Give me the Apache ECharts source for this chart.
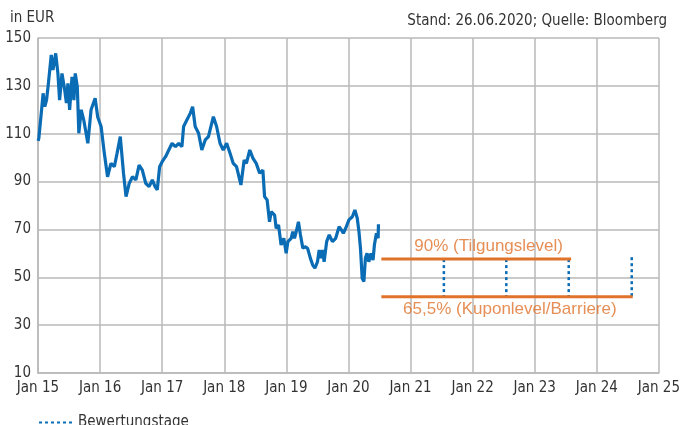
<!DOCTYPE html>
<html><head><meta charset="utf-8">
<script src="https://cdn.jsdelivr.net/npm/echarts@6/dist/echarts.min.js"></script>
<style>html,body{margin:0;padding:0;background:#fff}#c{width:683px;height:425px}</style>
</head><body><div id="c"></div>
<script>
// ---- data ----
const priceDates = [
'2015-01-02','2015-01-06','2015-01-22','2015-01-31','2015-02-10','2015-02-20','2015-03-01','2015-03-20','2015-03-30','2015-04-15','2015-04-28',
'2015-05-08','2015-05-22','2015-06-07','2015-06-17','2015-06-26','2015-07-06','2015-07-20','2015-07-31','2015-08-08','2015-08-20','2015-08-29',
'2015-09-12','2015-09-27','2015-10-21','2015-11-09','2015-12-03','2015-12-18','2016-01-07','2016-01-26','2016-02-14','2016-03-05','2016-03-25',
'2016-04-10','2016-04-29','2016-05-18','2016-06-02','2016-06-21','2016-07-10','2016-07-30','2016-08-18','2016-09-06','2016-09-26','2016-10-16',
'2016-11-04','2016-11-20','2016-12-03','2016-12-17','2017-01-01','2017-01-21','2017-02-09','2017-02-28','2017-03-20','2017-04-08','2017-04-27',
'2017-05-07','2017-05-26','2017-06-15','2017-06-29','2017-07-14','2017-08-03','2017-08-22','2017-09-11','2017-09-30','2017-10-29','2017-11-17',
'2017-12-07','2017-12-26','2018-01-15','2018-02-04','2018-02-23','2018-03-14','2018-04-09','2018-04-28','2018-05-11','2018-05-31','2018-06-19',
'2018-07-08','2018-07-28','2018-08-16','2018-08-26','2018-09-10',
'2018-09-15','2018-09-24','2018-10-04','2018-10-24','2018-11-02','2018-11-16','2018-12-01','2018-12-17','2018-12-31',
'2019-01-10','2019-01-29','2019-02-08','2019-02-18','2019-03-05','2019-03-13','2019-03-25','2019-04-08','2019-04-21','2019-05-06',
'2019-05-22','2019-06-05','2019-06-18','2019-07-03','2019-07-13','2019-07-23','2019-08-02','2019-08-11','2019-08-26','2019-09-10',
'2019-09-19','2019-09-29','2019-10-18','2019-11-07','2019-11-21','2019-12-02','2019-12-16',
'2020-01-04','2020-01-24','2020-02-08','2020-02-22','2020-03-03','2020-03-12','2020-03-22','2020-04-01','2020-04-10','2020-04-20',
'2020-04-30','2020-05-13','2020-05-25','2020-06-02','2020-06-14','2020-06-24','2020-06-26'];
const priceValues = [
107,108.2,120,126.9,121.3,124,129.6,142.9,136.6,143.6,135.2,
124,135.2,128.3,122.8,131,120,133.8,124,135.2,129.6,110.2,
120,115.7,106,120,124.8,117,113,101.8,92,97.6,96.2,
101.8,108.8,93.5,83.7,89.3,92,90.7,96.9,94.8,89.3,87.9,
90.7,87.9,86.5,96.2,98.3,100.4,103.2,106,104.6,106,104.6,
113,115.7,118.5,121.3,113,110.2,103.2,107.4,108.8,117.1,113,
106,103.2,106,101.8,97.6,96.2,88.6,99,97.6,103.2,99.7,
97.6,93.5,94.8,83.7,82.3,
81.6,73.2,77.4,76,70.5,71.9,63.5,66.3,60,
64.9,66.3,69.1,66.3,70.5,73.2,67.7,62.1,62.8,62.1,
58,55.1,53.8,56.5,61.4,58,61.4,56.5,64.9,67.7,
68.4,64.9,66.3,71.1,69.8,68.4,70.5,
74,75.3,78.1,74.7,69.1,62.1,49.6,48.2,58,60,
56.5,60,57.2,63.5,68.4,66.3,72.2];
const xYears = [2015,2025];
const yRange = [10,150];
const tilgungLevel = 57.6;
const kuponLevel = 41.9;
const tilgungRange = ['2020-07-13','2023-08-03'];
const kuponRange = ['2020-07-13','2024-07-31'];
const bewertungstage = ['2021-07-16','2022-07-18','2023-07-20','2024-07-25'];
const bewertungTop = [57.6,57.6,57.6,58.4];
const tilgungLabel = '90% (Tilgungslevel)';
const kuponLabel = '65,5% (Kuponlevel/Barriere)';
const tilgungLabelDate = '2022-04-05';
const kuponLabelDate = '2022-08-08';

// ---- helpers ----
function yr(s){const d=Date.parse(s+'T00:00:00Z');const y=new Date(d).getUTCFullYear();const a=Date.UTC(y,0,1),b=Date.UTC(y+1,0,1);return y+(d-a)/(b-a);}

const FONT = '"Liberation Sans Narrow","DejaVu Sans Condensed",sans-serif';
const BLUE = '#0a6cb5';
const ORANGE = '#e0722a';
const GRID = '#b9b9b9';

const series = [];
series.push({
  type:'line', name:'Kurs', showSymbol:false, symbol:'none',
  data: priceDates.map((d,i)=>[yr(d),priceValues[i]]),
  lineStyle:{color:BLUE,width:3.2}, z:5, silent:true
});
bewertungstage.forEach((d,i)=>{
  series.push({
    type:'line', name:'Bewertungstage', symbol:'none', silent:true,
    data:[[yr(d),bewertungTop[i]],[yr(d),kuponLevel]],
    lineStyle:{color:BLUE,width:2.5,type:[3,3]}, itemStyle:{color:BLUE}, z:3
  });
});
series.push({
  type:'line', name:'Tilgung', symbol:'none', silent:true,
  data: tilgungRange.map(d=>[yr(d),tilgungLevel]),
  lineStyle:{color:ORANGE,width:3}, z:4
});
series.push({
  type:'line', name:'Kupon', symbol:'none', silent:true,
  data: kuponRange.map(d=>[yr(d),kuponLevel]),
  lineStyle:{color:ORANGE,width:3}, z:4
});
series.push({
  type:'scatter', name:'labels', symbolSize:0, silent:true,
  data:[
    {value:[yr(tilgungLabelDate),tilgungLevel], label:{show:true,position:'top',distance:4,formatter:tilgungLabel}},
    {value:[yr(kuponLabelDate),kuponLevel], label:{show:true,position:'bottom',distance:4,formatter:kuponLabel}}
  ],
  label:{color:ORANGE,fontSize:17,fontFamily:'"Liberation Sans",Arial,sans-serif'}
});

const chart = echarts.init(document.getElementById('c'),null,{renderer:'canvas'});
chart.setOption({
  animation:false,
  backgroundColor:'#fff',
  grid:{left:38,right:19,top:38,bottom:52,containLabel:false},
  xAxis:{
    type:'value', min:xYears[0], max:xYears[1], interval:1,
    axisLine:{show:true,lineStyle:{color:GRID,width:1.5}},
    axisTick:{show:false},
    splitLine:{show:true,lineStyle:{color:GRID,width:1.5}},
    axisLabel:{color:'#333',fontSize:15,fontFamily:FONT,margin:8,
      formatter:v=>'Jan '+String(Math.round(v)).slice(2)}
  },
  yAxis:{
    type:'value', min:yRange[0], max:yRange[1], interval:10,
    axisLine:{show:true,lineStyle:{color:GRID,width:1.5}},
    axisTick:{show:false},
    splitLine:{show:true,lineStyle:{color:[GRID,'rgba(0,0,0,0)'],width:1.5}},
    axisLabel:{color:'#333',fontSize:15,fontFamily:FONT,margin:7,
      formatter:v=>((Math.round(v)-10)%20===0?String(Math.round(v)):'')}
  },
  legend:{
    show:true, data:['Bewertungstage'], left:33, top:410,
    itemWidth:34, itemHeight:10, itemGap:6,
    itemStyle:{opacity:0},
    textStyle:{color:'#333',fontSize:15,fontFamily:FONT}
  },
  graphic:[
    {type:'text',left:10,top:11,style:{text:'in EUR',fill:'#333',font:'15px '+FONT}},
    {type:'text',right:16,top:14,style:{text:'Stand: 26.06.2020; Quelle: Bloomberg',fill:'#333',font:'15px '+FONT}}
  ],
  series:series
});
</script></body></html>
